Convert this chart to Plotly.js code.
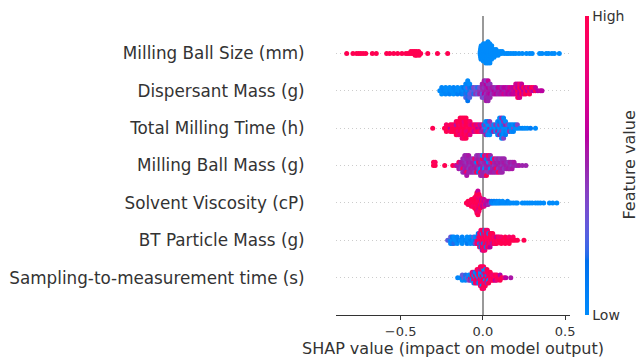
<!DOCTYPE html>
<html><head><meta charset="utf-8">
<script src="https://cdn.plot.ly/plotly-3.0.1.min.js"></script>
<style>html,body{margin:0;padding:0;background:#fff}#chart{width:640px;height:358px}</style>
</head><body><div id="chart"></div>
<script>
// Features, top to bottom
const features = ["Milling Ball Size (mm)", "Dispersant Mass (g)", "Total Milling Time (h)", "Milling Ball Mass (g)", "Solvent Viscosity (cP)", "BT Particle Mass (g)", "Sampling-to-measurement time (s)"];
const xTickVals = [-0.5, 0, 0.5];
const colorTickText = ["Low", "High"];
const colorbarTitle = "Feature value";

// SHAP values and normalised feature values (0 = low, 1 = high)
const shapBallSize = [
-0.828,-0.79,-0.768,-0.755,-0.742,-0.728,-0.712,-0.672,-0.648,-0.585,-0.566,-0.542,-0.518,-0.492,-0.468,-0.455,-0.443,-0.438,-0.43,-0.426,-0.418,-0.415,-0.412,-0.405,-0.404,-0.402,-0.392,-0.39,-0.387,-0.378,-0.335,-0.276,-0.214,
-0.017,-0.016,-0.015,-0.014,-0.013,-0.012,-0.011,-0.01,
-0.005,-0.004,-0.003,-0.002,-0.001,0,0.001,0.002,0.003,0.004,
0.008,0.009,0.01,0.011,0.012,0.013,0.014,0.015,0.016,0.017,0.018,
0.02,0.021,0.022,0.023,0.024,0.025,0.026,0.027,0.028,0.029,0.03,0.031,
0.033,0.034,0.035,0.036,0.037,0.038,0.039,0.04,0.041,0.042,0.043,
0.047,0.048,0.049,0.05,0.051,0.052,0.053,0.054,
0.06,0.062,0.064,0.066,0.068,
0.073,0.075,0.078,0.08,
0.087,0.09,0.093,
0.1,0.105,0.113,0.118,
0.13,0.145,0.155,0.17,0.185,0.2,0.22,0.24,0.265,0.285,0.3,0.345,0.36,0.385,0.4,0.42,0.435,0.465];
const fvBallSize = [
1,1,1,1,1,1,1,1,1,1, 1,1,1,1,1,1,1,1,1,1, 1,1,1,1,1,1,1,1,1,1, 1,1,1,
0,0,0,0,0,0,0,0, 0,0,0,0,0,0,0,0,0,0, 0,0,0,0,0,0,0,0,0,0,0, 0,0,0,0,0,0,0,0,0,0,0,0,
0,0,0,0,0,0,0,0,0,0,0, 0,0,0,0,0,0,0,0, 0,0,0,0,0, 0,0,0,0, 0,0,0, 0,0,0,0,
0,0,0,0,0,0,0,0,0,0,0,0,0,0,0,0,0,0];

const shapDispersant = [
-0.262, -0.25,-0.25,-0.25, -0.238, -0.226,-0.226,-0.226, -0.214, -0.202,-0.202,-0.202,
-0.19, -0.178,-0.178,-0.178, -0.166, -0.154,-0.154,-0.154, -0.142, -0.13,-0.13,-0.13,
-0.116,-0.116,-0.116,
-0.104,-0.104,-0.104,-0.104,-0.104,
-0.092,-0.092,-0.092,-0.092,-0.092,-0.092,-0.092,
-0.08,-0.08,-0.08,-0.08,-0.08,
-0.068,-0.068,-0.068, -0.056,-0.056,-0.056, -0.044,-0.044,-0.044, -0.032,-0.032,-0.032, -0.02,-0.02,-0.02,
-0.004,-0.004,-0.004,-0.004,-0.004,
0.008,0.008,0.008,0.008,0.008,0.008,
0.02,0.02,0.02,0.02,0.02,0.02,0.02,
0.032,0.032,0.032,0.032,0.032,0.032,0.032,
0.044,0.044,0.044,0.044,0.044,
0.056,0.056,0.056, 0.068,0.068,0.068, 0.08,0.08,0.08, 0.092,0.092,0.092,
0.104,0.104,0.104, 0.116,0.116,0.116, 0.128,0.128,0.128, 0.14,0.14,0.14,
0.152,0.152,0.152, 0.164,0.164,0.164, 0.176,0.176,0.176, 0.188,0.188,0.188,
0.2,0.2,0.2,0.2,
0.212,0.212,0.212,0.212,0.212,
0.224,0.224,0.224,0.224,0.224,
0.236,0.236,0.236,0.236,
0.248,0.248,0.248, 0.26,0.26,0.26, 0.272,0.272, 0.284,0.284,0.284, 0.296,0.296, 0.308,0.308, 0.32,0.32,
0.335,0.35,0.36];
const fvDispersant = [
0, 0,0.03,0, 0.05, 0,0,0.04, 0, 0.02,0,0.06,
0, 0,0.05,0, 0.03, 0,0,0.08, 0, 0.05,0,0.1,
0,0.15,0.05,
0.1,0,0.2,0.05,0.25,
0,0.3,0.1,0.05,0.2,0,0.15,
0.2,0.1,0.3,0,0.25,
0.3,0.15,0.35, 0.25,0.4,0.2, 0.35,0.3,0.45, 0.4,0.2,0.3, 0.45,0.35,0.5,
0.45,0.5,0.3,0.55,0.4,
0.5,0.45,0.6,0.5,0.35,0.55,
0.55,0.5,0.45,0.6,0.5,0.4,0.55,
0.5,0.6,0.55,0.45,0.5,0.65,0.5,
0.55,0.5,0.6,0.45,0.5,
0.5,0.55,0.45, 0.6,0.5,0.55, 0.5,0.45,0.6, 0.55,0.6,0.5,
0.5,0.65,0.55, 0.6,0.5,0.55, 0.55,0.6,0.7, 0.5,0.6,0.55,
0.65,0.55,0.6, 0.6,0.7,0.55, 0.55,0.65,0.6, 0.7,0.6,0.65,
0.6,0.9,0.65,0.7,
1,0.6,0.85,0.65,0.95,
0.65,1,0.6,0.9,0.7,
0.95,0.6,1,0.65,
0.6,1,0.7, 0.95,0.65,1, 0.6,0.9, 1,0.65,0.95, 0.7,1, 0.6,0.95, 1,0.65,
0.6,0.65,0.6];

const shapMillingTime = [
-0.305,
-0.233, -0.222,-0.222,-0.222, -0.21, -0.198,-0.198,-0.198, -0.186,-0.186,-0.186,
-0.174,-0.174,-0.174,
-0.162,-0.162,-0.162,-0.162,-0.162,
-0.15,-0.15,-0.15,-0.15,-0.15,
-0.138,-0.138,-0.138,-0.138,-0.138,-0.138,
-0.126,-0.126,-0.126,-0.126,-0.126,-0.126,-0.126,
-0.114,-0.114,-0.114,-0.114,-0.114,-0.114,-0.114,
-0.102,-0.102,-0.102,-0.102,-0.102,-0.102,-0.102,
-0.09,-0.09,-0.09,-0.09,-0.09,
-0.078,-0.078,-0.078,-0.078,-0.078,
-0.066,-0.066,-0.066, -0.054,-0.054,-0.054, -0.042,-0.042,-0.042, -0.03,-0.03,-0.03, -0.018,-0.018,-0.018, -0.006,-0.006,-0.006,
0.006,0.006,0.006,
0.018,0.018,0.018,0.018,0.018,
0.03,0.03,0.03,0.03,0.03,
0.042,0.042,0.042,0.042,0.042,
0.054,0.054,0.054, 0.066,0.066,0.066, 0.078,0.078,0.078,
0.09,0.09,0.09,0.09,0.09,
0.102,0.102,0.102,0.102,0.102,0.102,
0.114,0.114,0.114,0.114,0.114,0.114,0.114,
0.126,0.126,0.126,0.126,0.126,0.126,0.126,
0.138,0.138,0.138,0.138,0.138,
0.15,0.15,0.15, 0.162,0.162,0.162, 0.174,0.174,0.174, 0.186,0.186,0.186,
0.198,0.198, 0.21,0.21,
0.225,0.24,0.255,0.27,0.29,0.32];
const fvMillingTime = [
1,
1, 1,0.9,1, 1, 0.6,1,0.95, 1,0.9,1,
1,0.95,1,
1,0.55,1,0.9,1,
1,1,0.85,1,0.95,
1,0.9,1,1,0.8,1,
1,1,0.9,1,0.95,1,0.85,
1,0.9,1,0.8,1,1,0.95,
1,1,0.85,1,0.9,1,1,
0.95,1,0.8,1,1,
1,0.85,1,0.9,0.75,
1,0.7,0.9, 0.8,1,0.65, 1,0.7,0.85, 0.6,0.9,1, 0.75,0.55,0.9, 0.6,0.8,0.5,
0.4,0.1,0.55,
0,0.45,0.1,0,0.5,
0.05,0,0.4,0.1,0,
0.5,0,0.05,0.45,0,
0,0.4,0.1, 0.05,0,0.5, 0,0.45,0,
0.1,0,0.5,0,0.05,
0,0.45,0,0.1,0.5,0,
0.05,0,0.4,0,0.1,0.5,0,
0,0.1,0,0.45,0,0.05,0.4,
0,0.5,0.05,0,0.1,
0,0.4,0, 0.1,0,0.45, 0,0.05,0, 0.35,0,0.05,
0,0.1, 0,0.4,
0,0.05,0,0,0.1,0];

const shapBallMass = [
-0.3,-0.3, -0.29,-0.29, -0.232, -0.183, -0.165,
-0.155,
-0.146,-0.146,-0.146,
-0.134,-0.134,-0.134,
-0.122,-0.122,-0.122,-0.122,-0.122,
-0.11,-0.11,-0.11,-0.11,-0.11,-0.11,
-0.098,-0.098,-0.098,-0.098,-0.098,-0.098,-0.098,
-0.086,-0.086,-0.086,-0.086,-0.086,-0.086,
-0.074,-0.074,-0.074,-0.074,-0.074,
-0.062,-0.062,-0.062,-0.062,-0.062,
-0.05,-0.05,-0.05,-0.05,-0.05,
-0.038,-0.038,-0.038,-0.038,-0.038,-0.038,
-0.026,-0.026,-0.026,-0.026,-0.026,-0.026,
-0.014,-0.014,-0.014,-0.014,-0.014,-0.014,-0.014,
-0.002,-0.002,-0.002,-0.002,-0.002,-0.002,-0.002,
0.01,0.01,0.01,0.01,0.01,0.01,0.01,
0.022,0.022,0.022,0.022,0.022,0.022,0.022,
0.034,0.034,0.034,0.034,0.034,0.034,
0.046,0.046,0.046,0.046,0.046,0.046,
0.058,0.058,0.058,0.058,0.058,
0.07,0.07,0.07,0.07,0.07,
0.082,0.082,0.082,0.082,0.082,
0.094,0.094,0.094,0.094,0.094,
0.106,0.106,0.106,0.106,0.106,
0.118,0.118,0.118,0.118,0.118,
0.13,0.13,0.13,0.13,
0.142,0.142,0.142, 0.154,0.154,0.154, 0.166,0.166,0.166, 0.178,0.178,0.178,
0.19,0.19,
0.205,0.22,0.24,0.262];
const fvBallMass = [
1,1, 1,0.95, 1, 1, 0.75,
0.55,
0.5,0.9,0.55,
0.5,0.55,0.45,
0.5,0.55,0.95,0.5,0.45,
0.55,0.5,0.5,0.45,0.55,0.5,
0.5,0.45,0.55,0.5,0.9,0.5,0.55,
0.5,0.55,0.45,0.5,0.5,0.55,
0.45,0.5,0.55,0.5,0.5,
0.5,0.55,0.5,0.45,0.5,
0.55,0.5,0.5,0.85,0.45,
0.5,0.05,0.55,0.5,1,0.45,
0.5,1,0.45,0.55,0.1,0.5,
0.55,0.5,0,0.5,0.95,0.45,0.5,
0.5,0.45,0.55,1,0.5,0.05,0.5,
0.45,0.5,0,0.55,0.5,0.9,0.5,
0.5,0.55,0.5,0.1,0.45,0.5,1,
0.55,0,0.5,0.5,0.45,0.95,
0.5,0.45,0.05,0.55,0.5,0.5,
0.5,1,0.5,0,0.55,
0.45,0.5,0.55,0.9,0.5,
0.5,0.55,1,0.45,0.5,
0.55,0.5,0.45,0.5,0.95,
0.5,0.55,0.5,0.45,0.5,
0.45,0.5,0.55,0.5,0.5,
0.5,0.55,0.45,0.5,
0.55,0.5,0.5, 0.5,0.45,0.55, 0.5,0.55,0.5, 0.45,0.5,0.55,
0.5,0.55,
0.5,0.55,0.5,0.5];

const shapViscosity = [
-0.1,
-0.09,-0.09,-0.09,
-0.08,-0.08,-0.08,
-0.07,-0.07,-0.07,-0.07,-0.07,
-0.06,-0.06,-0.06,-0.06,-0.06,
-0.05,-0.05,-0.05,-0.05,-0.05,-0.05,-0.05,
-0.042,-0.042,-0.042,-0.042,-0.042,-0.042,-0.042,-0.042,-0.042,
-0.036,-0.036,-0.036,-0.036,-0.036,-0.036,-0.036,-0.036,-0.036,-0.036,-0.036,-0.036,-0.036,
-0.03,-0.03,-0.03,-0.03,-0.03,-0.03,-0.03,-0.03,-0.03,-0.03,-0.03,-0.03,-0.03,-0.03,-0.03,
-0.024,-0.024,-0.024,-0.024,-0.024,-0.024,-0.024,-0.024,-0.024,-0.024,-0.024,
-0.016,-0.016,-0.016,-0.016,-0.016,-0.016,-0.016,
-0.008,-0.008,-0.008,-0.008,-0.008,
0,0,0,0,0,
0.008,0.008,0.008,0.008,0.008,
0.016,0.016,0.016, 0.024,0.024,0.024, 0.032,0.032,0.032, 0.04,0.04, 0.048,
0.053,0.053, 0.06, 0.068,0.068, 0.076, 0.084,0.084, 0.092, 0.1,0.1, 0.11, 0.12,0.12, 0.13, 0.14, 0.15,0.15, 0.16, 0.17, 0.185, 0.2, 0.21,
0.24,0.255,0.27,0.285,0.3,0.32,0.335,0.35,0.37,
0.405,0.425,0.45];
const fvViscosity = [
1,
1,1,0.95,
1,0.95,1,
1,1,0.9,1,1,
1,0.95,1,1,0.9,
1,1,0.95,1,0.9,1,1,
1,0.95,1,1,0.9,1,1,0.95,1,
1,1,0.95,1,0.9,1,1,0.85,1,0.95,1,1,0.9,
1,0.95,1,1,0.9,1,0.8,1,0.95,1,0.7,1,0.9,0.65,1,
1,0.9,1,0.95,1,0.7,1,0.85,0.65,1,0.9,
0.95,1,0.8,1,0.7,0.9,1,
1,0.75,0.9,0.65,1,
0.8,1,0.7,0.9,0.6,
0.75,0.6,0.9,0.65,0.8,
0.6,0.8,0.55, 0.7,0.55,0.6, 0.55,0.65,0.5, 0.5,0.6, 0.4,
0.2,0.1, 0.05, 0,0.1, 0, 0,0.05, 0, 0,0, 0.05, 0,0, 0, 0, 0,0.05, 0, 0, 0, 0, 0,
0,0,0,0,0,0,0,0,0,
0,0,0];

const shapBTMass = [
-0.214, -0.205, -0.196,-0.196,-0.196, -0.186,-0.186,-0.186, -0.176,-0.176,-0.176, -0.166,
-0.156,-0.156,-0.156, -0.146, -0.136, -0.126,-0.126,-0.126, -0.116, -0.106,
-0.096,-0.096,-0.096, -0.086, -0.076,-0.076,-0.076, -0.066, -0.056,-0.056,-0.056, -0.046,-0.046,-0.046,
-0.036,-0.036,-0.036,
-0.028,-0.028,-0.028,-0.028,
-0.02,-0.02,-0.02,-0.02,-0.02,
-0.012,-0.012,-0.012,-0.012,-0.012,-0.012,
-0.004,-0.004,-0.004,-0.004,-0.004,-0.004,-0.004,
0.004,0.004,0.004,0.004,0.004,0.004,0.004,
0.012,0.012,0.012,0.012,0.012,0.012,0.012,
0.02,0.02,0.02,0.02,0.02,0.02,
0.028,0.028,0.028,0.028,0.028,0.028,
0.036,0.036,0.036,0.036,0.036,
0.044,0.044,0.044,0.044,0.044,
0.052,0.052,0.052,0.052,
0.06,0.06,0.06,0.06,
0.068,0.068,0.068, 0.076,0.076,0.076, 0.084,0.084,0.084,
0.092,0.092, 0.1,0.1,
0.112,0.112,0.112, 0.124, 0.136,0.136,0.136, 0.148, 0.16,0.16,0.16, 0.172, 0.184,0.184, 0.196, 0.21, 0.25];
const fvBTMass = [
0.3, 0.25, 0.05,0.3,0, 0,0.1,0.05, 0.05,0,0.2, 0,
0,0.05,0, 0.1, 0, 0,0.05,0, 0, 0.05,
0,0,0.1, 0, 0.05,0,0, 0.1, 0,0.3,0.05, 0.1,0,0.4,
0.8,0.05,0.9,
1,0.5,0.85,0.1,
0.9,1,0.05,0.8,0.95,
1,0.85,0.5,1,0.1,0.9,
0.95,1,0.8,0.05,1,0.9,0.55,
1,0.9,0.1,1,0.85,1,0.95,
0.9,1,0.95,0.5,1,0.05,0.85,
1,0.85,1,0.9,0.1,1,
0.95,1,0.55,1,0.9,0.85,
1,0.9,1,0.05,0.95,
0.85,1,0.9,1,0.6,
1,0.95,0.8,1,
0.9,1,0.55,1,
1,0.85,1, 0.95,1,0.9, 1,0.6,1,
0.9,1, 1,0.85,
1,0.9,1, 1, 0.95,1,1, 1, 1,0.9,1, 1, 1,0.95, 1, 1, 1];

const shapSampling = [
-0.153, -0.135, -0.125,-0.125,-0.125, -0.115, -0.105,-0.105,-0.105, -0.095, -0.085,-0.085,-0.085,
-0.075,-0.075,-0.075,
-0.065,-0.065,-0.065,-0.065,
-0.055,-0.055,-0.055,-0.055,-0.055,
-0.045,-0.045,-0.045,-0.045,-0.045,
-0.035,-0.035,-0.035,-0.035,-0.035,-0.035,
-0.025,-0.025,-0.025,-0.025,-0.025,-0.025,
-0.015,-0.015,-0.015,-0.015,-0.015,-0.015,-0.015,-0.015,
-0.005,-0.005,-0.005,-0.005,-0.005,-0.005,-0.005,-0.005,-0.005,
0.005,0.005,0.005,0.005,0.005,0.005,0.005,0.005,0.005,
0.015,0.015,0.015,0.015,0.015,0.015,0.015,
0.025,0.025,0.025,0.025,0.025,0.025,
0.035,0.035,0.035,0.035,0.035,
0.045,0.045,0.045,0.045,
0.055,0.055,0.055, 0.065,0.065,0.065, 0.075,0.075,0.075, 0.085,0.085,0.085, 0.095,
0.105,0.105,0.105, 0.115, 0.13, 0.14, 0.17];
const fvSampling = [
0.05, 0, 0.1,0.3,0, 0.35, 0,0.2,0.05, 0.3, 0.1,0,0.4,
0.9,0.05,0.5,
0.1,0.95,0,0.85,
1,0.05,0.9,0.5,0,
0.05,1,0.85,0,0.95,
0.9,0,1,0.1,0.85,1,
0,0.95,0.5,1,0.05,0.9,
1,0.05,0.9,0,1,0.55,0.85,1,
0.1,1,0.85,0,0.95,1,0.05,0.9,1,
0.9,0,1,0.5,0.85,0.05,1,0.95,0.9,
1,0.85,0.05,1,0.9,0,1,
0.95,0.1,1,0.85,0.5,1,
1,0.9,0,0.95,1,
0.85,1,0.9,1,
1,0.9,0.95, 1,0.85,1, 0.9,1,0.6, 1,0.95,0.85, 1,
0.9,0.6,1, 1, 0.85, 0.6, 0.55];

const shapRows = [shapBallSize, shapDispersant, shapMillingTime, shapBallMass, shapViscosity, shapBTMass, shapSampling];
const fvRows = [fvBallSize, fvDispersant, fvMillingTime, fvBallMass, fvViscosity, fvBTMass, fvSampling];

// SHAP red-blue colour map (interpolated in LCH space as in the shap package)
function lch2rgb(l, c, h) {
  const a = c * Math.cos(h), b = c * Math.sin(h);
  const fy = (l + 16) / 116, fx = fy + a / 500, fz = fy - b / 200;
  const finv = t => t > 0.206893034 ? t * t * t : (t - 16 / 116) / 7.787;
  const X = 0.95047 * finv(fx), Y = finv(fy), Z = 1.08883 * finv(fz);
  const r = 3.2404542 * X - 1.5371385 * Y - 0.4985314 * Z;
  const g = -0.9692660 * X + 1.8760108 * Y + 0.0415560 * Z;
  const bb = 0.0556434 * X - 0.2040259 * Y + 1.0572252 * Z;
  const gam = v => { v = v <= 0.0031308 ? 12.92 * v : 1.055 * Math.pow(Math.max(v, 0), 1 / 2.4) - 0.055; return Math.round(Math.min(1, Math.max(0, v)) * 255); };
  return 'rgb(' + gam(r) + ',' + gam(g) + ',' + gam(bb) + ')';
}
const colorscale = [];
(function () {
  const n = 100, half = 50;
  for (let i = 0; i < n; i++) {
    const l = i < half ? 54 + (40 - 54) * i / (half - 1) : 40 + (54 - 40) * (i - half) / (half - 1);
    const c = 70 + (90 - 70) * i / (n - 1);
    const h = 4.6588 + (0.35470565 + 2 * Math.PI - 4.6588) * i / (n - 1);
    colorscale.push([i / (n - 1), lch2rgb(l, c, h)]);
  }
})();

// beeswarm offsets (same binning/stacking rule as shap's summary plot)
function swarm(vals) {
  const N = vals.length, nbins = 100;
  const mn = Math.min(...vals), mx = Math.max(...vals);
  const quant = vals.map(v => Math.round(nbins * (v - mn) / (mx - mn + 1e-8)));
  const inds = [...Array(N).keys()].sort((a, b) => quant[a] - quant[b] || a - b);
  let layer = 0, last = -1;
  const ys = new Array(N).fill(0);
  for (const i of inds) {
    if (quant[i] !== last) layer = 0;
    ys[i] = Math.ceil(layer / 2) * ((layer % 2) * 2 - 1);
    layer++; last = quant[i];
  }
  const m = Math.max(...ys.map(y => y + 1));
  return ys.map(y => y * 0.9 * (0.4 / m));
}

const nF = features.length;
const traces = shapRows.map((vals, k) => {
  const pos = nF - 1 - k;
  const off = swarm(vals);
  return {
    type: 'scatter', mode: 'markers', x: vals, y: off.map(o => pos + o),
    marker: { size: 5, color: fvRows[k], coloraxis: 'coloraxis', line: { width: 0 } },
    hoverinfo: 'skip', showlegend: false
  };
});

const L = 336, R = 70, T = 16, B = 43, W = 640, H = 358;
const layout = {
  width: W, height: H,
  margin: { l: L, r: R, t: T, b: B },
  paper_bgcolor: '#fff', plot_bgcolor: '#fff',
  font: { family: 'DejaVu Sans', color: '#333' },
  showlegend: false,
  xaxis: {
    range: [-0.893, 0.53], tickvals: xTickVals, tickformat: '.1f',
    ticks: 'outside', ticklen: 4, tickwidth: 1, tickcolor: '#333', ticklabelstandoff: 0,
    showline: true, linecolor: '#333', linewidth: 1, showgrid: false,
    zeroline: true, zerolinecolor: '#999', zerolinewidth: 1.5,
    tickfont: { size: 13, color: '#333' },
    title: { text: 'SHAP value (impact on model output)', font: { size: 16, color: '#333' }, standoff: 9 },
    automargin: false, fixedrange: true
  },
  yaxis: {
    range: [-1, nF], tickvals: features.map((f, k) => nF - 1 - k), ticktext: features,
    ticks: 'outside', ticklen: 27, tickcolor: 'rgba(0,0,0,0)',
    showline: false, zeroline: false, showgrid: true, gridcolor: '#cccccc', gridwidth: 1, griddash: '1px,3px',
    tickfont: { size: 16.8, color: '#333' }, automargin: false, fixedrange: true
  },
  coloraxis: {
    cmin: 0, cmax: 1, colorscale: colorscale, showscale: true,
    colorbar: {
      xref: 'container', x: 585 / W, xanchor: 'left', xpad: 0,
      y: 0.5, yanchor: 'middle', len: 1, lenmode: 'fraction', ypad: 0,
      thickness: 4, outlinewidth: 0,
      tickvals: [0, 1], ticktext: colorTickText, ticks: '',
      tickfont: { size: 14, color: '#333' }
    }
  },
  annotations: [{
    text: colorbarTitle, textangle: -90, showarrow: false,
    xref: 'paper', yref: 'paper', x: (629 - L) / (W - L - R), y: 0.5,
    xanchor: 'center', yanchor: 'middle',
    font: { size: 16, color: '#333' }
  }]
};

Plotly.newPlot('chart', traces, layout, { staticPlot: true, displayModeBar: false }).then(() => {
  const bad = shapRows.map((s, k) => s.length !== fvRows[k].length ? features[k] + ':' + s.length + '/' + fvRows[k].length : null).filter(Boolean);
  if (bad.length) throw new Error('length mismatch ' + bad.join(', '));
});
</script>
</body></html>
